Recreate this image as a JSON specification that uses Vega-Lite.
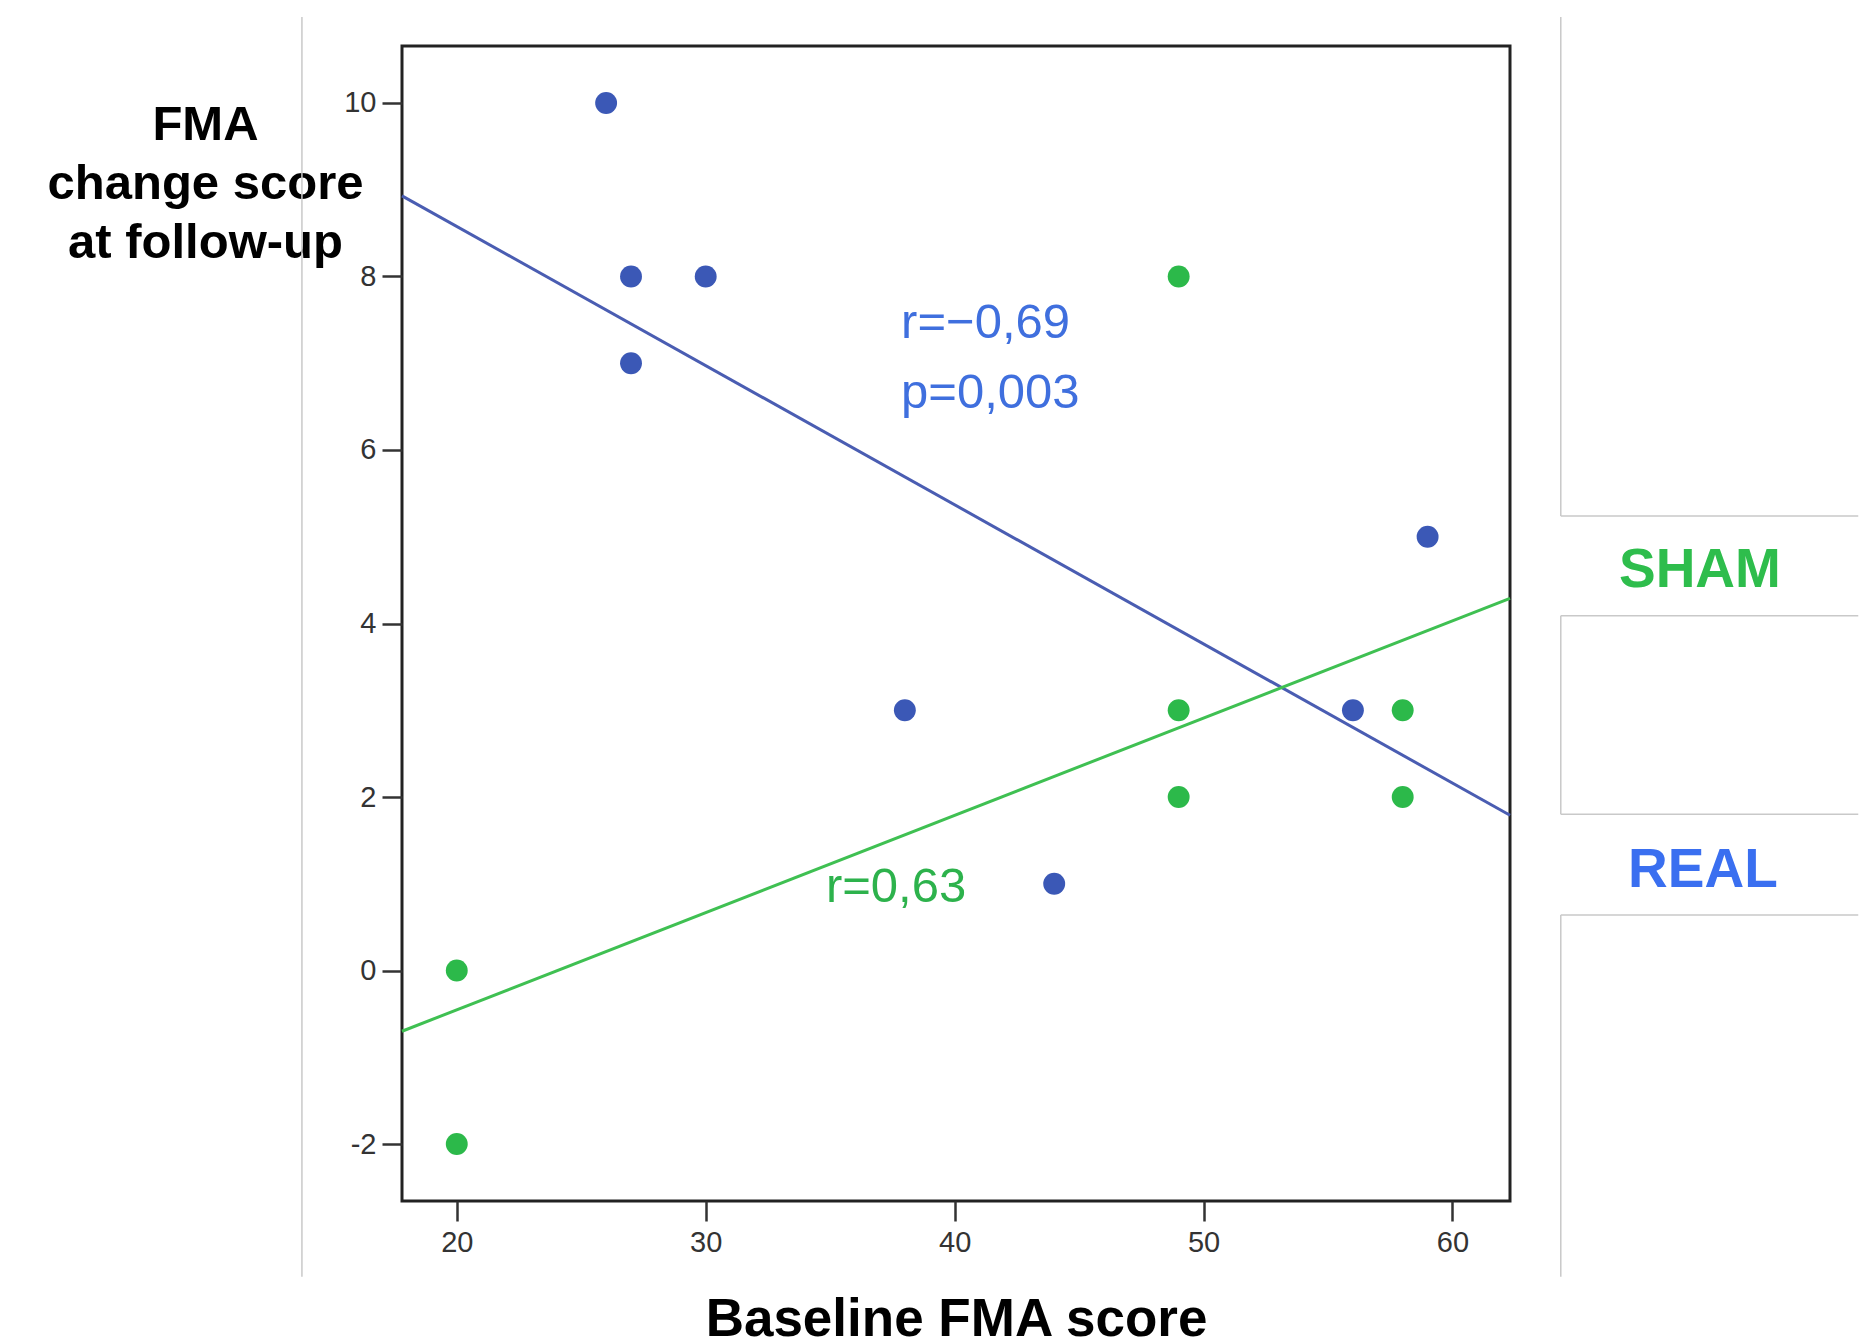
{
  "$schema": "https://vega.github.io/schema/vega-lite/v6.json",
  "width": 1108,
  "height": 1155,
  "autosize": {"type": "none"},
  "padding": {"left": 402, "top": 46, "right": 349, "bottom": 137},
  "background": "white",
  "config": {
    "view": {"stroke": "#222222", "strokeWidth": 3},
    "font": "Liberation Sans"
  },
  "datasets": {
    "points": [
      {"group": "REAL", "x": 26, "y": 10},
      {"group": "REAL", "x": 27, "y": 8},
      {"group": "REAL", "x": 30, "y": 8},
      {"group": "REAL", "x": 27, "y": 7},
      {"group": "REAL", "x": 38, "y": 3},
      {"group": "REAL", "x": 44, "y": 1},
      {"group": "REAL", "x": 56, "y": 3},
      {"group": "REAL", "x": 59, "y": 5},
      {"group": "SHAM", "x": 20, "y": 0},
      {"group": "SHAM", "x": 20, "y": -2},
      {"group": "SHAM", "x": 49, "y": 8},
      {"group": "SHAM", "x": 49, "y": 3},
      {"group": "SHAM", "x": 49, "y": 2},
      {"group": "SHAM", "x": 58, "y": 3},
      {"group": "SHAM", "x": 58, "y": 2}
    ],
    "fits": [
      {"group": "REAL", "x": 17.8, "y": 8.93},
      {"group": "REAL", "x": 62.31, "y": 1.79},
      {"group": "SHAM", "x": 17.8, "y": -0.7},
      {"group": "SHAM", "x": 62.31, "y": 4.29}
    ],
    "notes": [
      {"group": "REAL", "label": "r=−0,69", "x": 37.85, "y": 7.29},
      {"group": "REAL", "label": "p=0,003", "x": 37.85, "y": 6.48},
      {"group": "SHAM", "label": "r=0,63", "x": 34.83, "y": 0.79}
    ],
    "keys": [
      {"group": "SHAM", "label": "SHAM", "x": 69.94, "y": 4.42},
      {"group": "REAL", "label": "REAL", "x": 70.06, "y": 0.96}
    ],
    "frames": [
      {"x": 13.78, "y": 10.99, "x2": 13.78, "y2": -3.53},
      {"x": 64.35, "y": 10.99, "x2": 64.35, "y2": 5.24},
      {"x": 64.35, "y": 5.24, "x2": 76.3, "y2": 5.24},
      {"x": 64.35, "y": 4.09, "x2": 76.3, "y2": 4.09},
      {"x": 64.35, "y": 4.09, "x2": 64.35, "y2": 1.8},
      {"x": 64.35, "y": 1.8, "x2": 76.3, "y2": 1.8},
      {"x": 64.35, "y": 0.64, "x2": 76.3, "y2": 0.64},
      {"x": 64.35, "y": 0.64, "x2": 64.35, "y2": -3.53}
    ]
  },
  "encoding": {
    "x": {
      "field": "x",
      "type": "quantitative",
      "scale": {"domain": [17.8, 62.31], "nice": false, "zero": false},
      "axis": {
        "values": [20, 30, 40, 50, 60],
        "domain": false,
        "grid": false,
        "tickSize": 20,
        "tickWidth": 2.5,
        "tickColor": "#333333",
        "labelFont": "Liberation Sans",
        "labelFontSize": 29,
        "labelColor": "#333333",
        "labelPadding": 7,
        "labelExpr": "toString(datum.value)",
        "title": "Baseline FMA score",
        "titleFont": "Liberation Sans",
        "titleFontSize": 53,
        "titleFontWeight": "bold",
        "titleColor": "#000000",
        "titleBaseline": "alphabetic",
        "titleY": 134
      }
    },
    "y": {
      "field": "y",
      "type": "quantitative",
      "scale": {"domain": [-2.657, 10.657], "nice": false, "zero": false},
      "axis": {
        "values": [-2, 0, 2, 4, 6, 8, 10],
        "domain": false,
        "grid": false,
        "tickSize": 20,
        "tickWidth": 2.5,
        "tickColor": "#333333",
        "labelFont": "Liberation Sans",
        "labelFontSize": 29,
        "labelColor": "#333333",
        "labelPadding": 6,
        "labelExpr": "toString(datum.value)",
        "title": ["FMA", "change score", "at follow-up"],
        "titleFont": "Liberation Sans",
        "titleFontSize": 49,
        "titleFontWeight": "bold",
        "titleColor": "#000000",
        "titleAngle": 0,
        "titleAlign": "center",
        "titleBaseline": "alphabetic",
        "titleLineHeight": 59,
        "titleX": -197,
        "titleY": 93
      }
    }
  },
  "layer": [
    {
      "data": {"name": "frames"},
      "mark": {"type": "rule", "color": "#c9c9c9", "strokeWidth": 1.5},
      "encoding": {
        "x2": {"field": "x2"},
        "y2": {"field": "y2"}
      }
    },
    {
      "data": {"name": "fits"},
      "mark": {"type": "line", "strokeWidth": 3},
      "encoding": {
        "color": {
          "field": "group",
          "type": "nominal",
          "scale": {"domain": ["REAL", "SHAM"], "range": ["#4a5db2", "#3fc052"]},
          "legend": null
        }
      }
    },
    {
      "data": {"name": "points"},
      "mark": {"type": "circle", "size": 480, "opacity": 1},
      "encoding": {
        "color": {
          "field": "group",
          "type": "nominal",
          "scale": {"domain": ["REAL", "SHAM"], "range": ["#3b58b6", "#2cb94a"]},
          "legend": null
        }
      }
    },
    {
      "data": {"name": "notes"},
      "mark": {"type": "text", "align": "left", "baseline": "alphabetic", "fontSize": 49, "font": "Liberation Sans"},
      "encoding": {
        "text": {"field": "label"},
        "color": {
          "field": "group",
          "type": "nominal",
          "scale": {"domain": ["REAL", "SHAM"], "range": ["#3f6fde", "#2db24c"]},
          "legend": null
        }
      }
    },
    {
      "data": {"name": "keys"},
      "mark": {"type": "text", "align": "center", "baseline": "alphabetic", "fontSize": 55, "fontWeight": "bold", "font": "Liberation Sans"},
      "encoding": {
        "text": {"field": "label"},
        "color": {
          "field": "group",
          "type": "nominal",
          "scale": {"domain": ["REAL", "SHAM"], "range": ["#3a6ff0", "#2ebd4c"]},
          "legend": null
        }
      }
    }
  ],
  "resolve": {"scale": {"color": "independent"}}
}
